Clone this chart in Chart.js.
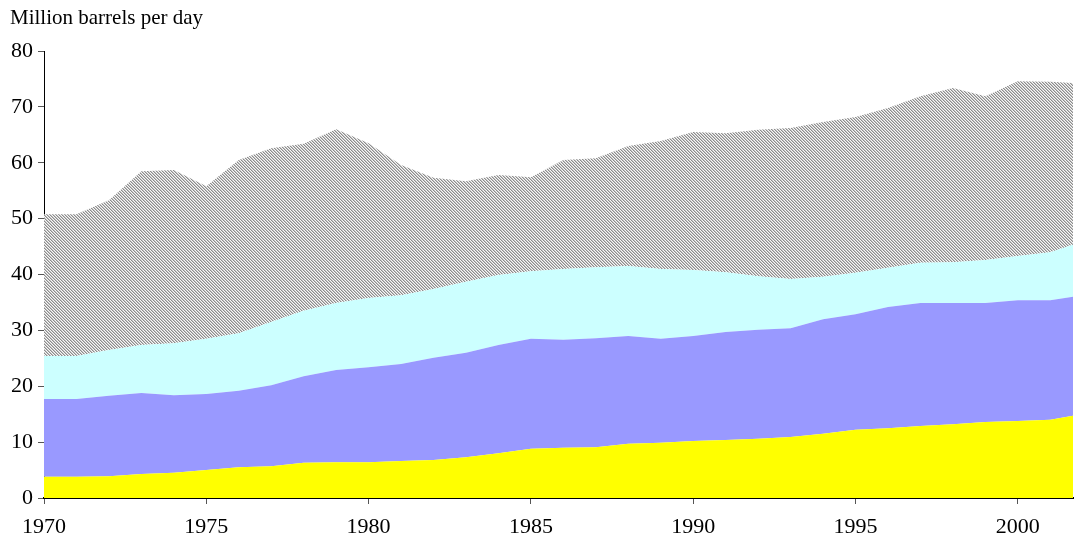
<!DOCTYPE html>
<html>
<head>
<meta charset="utf-8">
<script src="https://cdn.jsdelivr.net/npm/chart.js@4/dist/chart.umd.min.js"></script>
<style>
  html, body { margin: 0; padding: 0; background: #fff; }
  #wrap { width: 1074px; height: 544px; }
</style>
</head>
<body>
<div id="wrap"><canvas id="c" width="1074" height="544"></canvas></div>
<script>
const years = [1970,1971,1972,1973,1974,1975,1976,1977,1978,1979,1980,1981,1982,1983,1984,1985,1986,1987,1988,1989,1990,1991,1992,1993,1994,1995,1996,1997,1998,1999,2000,2001,2002];
const yellowSeries = [3.8,3.8,3.9,4.3,4.5,5.0,5.5,5.7,6.3,6.4,6.4,6.6,6.8,7.3,8.0,8.8,9.0,9.1,9.7,9.9,10.2,10.4,10.6,10.9,11.5,12.2,12.5,12.9,13.2,13.6,13.8,14.0,15.0];
const blueSeries = [13.9,13.9,14.4,14.5,13.9,13.6,13.7,14.5,15.5,16.5,17.0,17.4,18.3,18.7,19.4,19.7,19.3,19.5,19.3,18.6,18.8,19.3,19.5,19.5,20.5,20.7,21.7,22.0,21.7,21.3,21.6,21.4,21.3];
const cyanSeries = [7.7,7.7,8.2,8.6,9.3,9.9,10.3,11.3,11.7,12.0,12.4,12.3,12.3,12.7,12.5,12.1,12.7,12.7,12.5,12.5,11.8,10.7,9.6,8.8,7.6,7.4,7.0,7.2,7.3,7.7,7.9,8.6,9.6];
const graySeries = [25.4,25.4,26.8,31.1,31.0,27.3,31.0,31.1,29.9,31.1,27.7,23.3,19.9,18.0,17.9,16.8,19.5,19.5,21.5,22.9,24.7,24.9,26.2,27.0,27.7,27.9,28.6,29.8,31.2,29.3,31.3,30.5,28.3];
const yTicks = [0,10,20,30,40,50,60,70,80];
const xTickYears = [1970,1975,1980,1985,1990,1995,2000];
const titleText = 'Million barrels per day';

function makeHatch() {
  const t = document.createElement('canvas');
  t.width = 3; t.height = 3;
  const g = t.getContext('2d');
  g.fillStyle = '#f8f8f8';
  g.fillRect(0, 0, 3, 3);
  g.fillStyle = '#8c8c8c';
  for (let i = 0; i < 3; i++) g.fillRect(i, i, 1, 1);
  g.fillStyle = '#c4c4c4';
  for (let i = 0; i < 3; i++) g.fillRect((i + 1) % 3, i, 1, 1);
  return t;
}
const ctx = document.getElementById('c').getContext('2d');
const hatch = ctx.createPattern(makeHatch(), 'repeat');

const toPts = arr => years.map((y, i) => ({x: y, y: arr[i]}));
const serif = '"Liberation Serif", "DejaVu Serif", serif';

const titlePlugin = {
  id: 'topTitle',
  afterDraw(chart) {
    const c = chart.ctx;
    c.save();
    c.font = '21px ' + serif;
    c.fillStyle = '#000';
    c.textBaseline = 'middle';
    c.textAlign = 'left';
    c.fillText(titleText, 10, 18);
    c.restore();
  }
};

new Chart(ctx, {
  type: 'line',
  data: {
    datasets: [
      {label: 'Yellow', data: toPts(yellowSeries), backgroundColor: '#ffff00', fill: 'origin'},
      {label: 'Blue', data: toPts(blueSeries), backgroundColor: '#9999ff', fill: '-1'},
      {label: 'Cyan', data: toPts(cyanSeries), backgroundColor: '#ccffff', fill: '-1'},
      {label: 'Gray', data: toPts(graySeries), backgroundColor: hatch, fill: '-1'}
    ]
  },
  options: {
    responsive: false,
    animation: false,
    devicePixelRatio: 1,
    layout: {padding: {top: 51, right: 1, left: 0, bottom: 0}},
    elements: {
      line: {borderWidth: 0, tension: 0, borderColor: 'rgba(0,0,0,0)'},
      point: {radius: 0, hoverRadius: 0}
    },
    plugins: {legend: {display: false}, tooltip: {enabled: false}},
    scales: {
      x: {
        type: 'linear',
        min: 1970,
        max: 2001.7,
        afterFit(s) { s.height = 46; },
        afterBuildTicks(s) { s.ticks = xTickYears.map(v => ({value: v})); },
        ticks: {
          includeBounds: false,
          autoSkip: false,
          maxRotation: 0,
          padding: 10,
          color: '#000',
          font: {family: serif, size: 22},
          callback: v => String(v)
        },
        grid: {display: true, drawOnChartArea: false, drawTicks: true, tickLength: 6, color: '#555', lineWidth: 1},
        border: {display: true, color: '#000', width: 2}
      },
      y: {
        stacked: true,
        min: 0,
        max: 80,
        afterFit(s) { s.width = 44; },
        afterBuildTicks(s) { s.ticks = yTicks.map(v => ({value: v})); },
        ticks: {
          padding: 5,
          color: '#000',
          font: {family: serif, size: 22},
          callback: v => String(v)
        },
        grid: {display: true, drawOnChartArea: false, drawTicks: true, tickLength: 6, color: '#555', lineWidth: 1},
        border: {display: true, color: '#000', width: 1}
      }
    }
  },
  plugins: [titlePlugin]
});
</script>
</body>
</html>
